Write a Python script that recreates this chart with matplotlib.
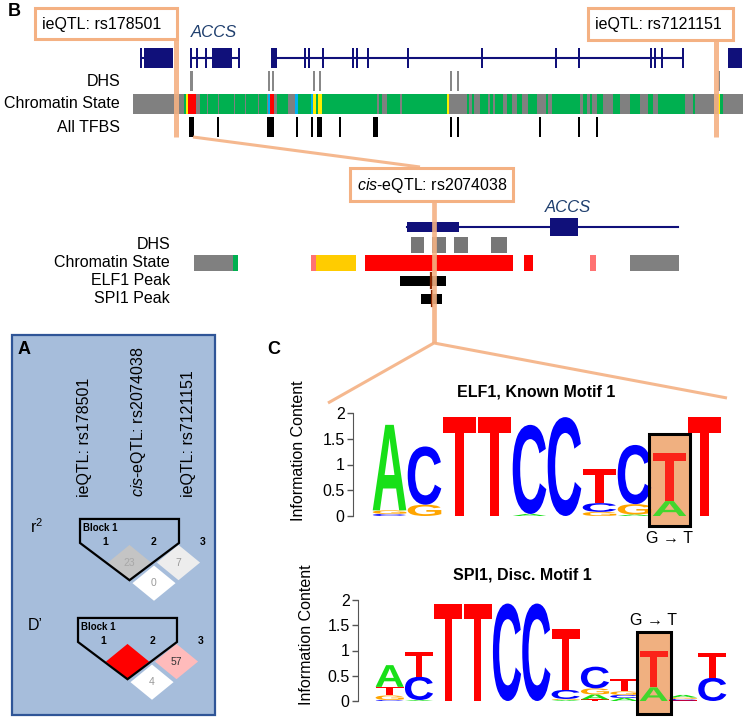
import matplotlib
matplotlib.use('Agg')
import matplotlib.pyplot as plt
import matplotlib.transforms as mtransforms
from matplotlib.patches import Rectangle, Polygon, PathPatch
from matplotlib.textpath import TextPath
from matplotlib.font_manager import FontProperties

plt.rcParams['font.family'] = ['Liberation Sans', 'DejaVu Sans']
plt.rcParams['mathtext.fontset'] = 'custom'
plt.rcParams['mathtext.rm'] = 'Liberation Sans'
plt.rcParams['mathtext.it'] = 'Liberation Sans:italic'
plt.rcParams['mathtext.bf'] = 'Liberation Sans:bold'

W, H = 745, 717

# ---------------- data: wide browser view (B, top) ----------------
top_gene_lines = [(140, 173), (190, 240), (272, 683)]
top_exons = [(139.5, 141.5), (144, 151.5), (152, 158.5), (159, 166.5), (167, 173),
             (189.5, 191.5), (196, 198), (204.5, 206.5), (212, 217.5), (218, 222.5),
             (223, 232), (237.5, 240), (271, 277), (304, 306), (308, 310),
             (322, 324), (352, 354), (356, 358), (367, 369), (407, 409),
             (481, 483), (555, 557), (578, 580), (650, 652), (654, 656),
             (661, 663), (682, 684), (728, 742)]
top_dhs_start = [190, 268, 272, 313, 319, 450, 457, 717.5]
top_dhs_end = [193, 270, 274, 315, 321, 452, 459, 719.5]
top_tfbs_start = [189, 217, 267, 296, 311, 317, 339, 373, 450, 457, 539, 578, 596]
top_tfbs_end = [193.5, 219, 274, 298, 313, 322, 341, 378, 452, 459, 541, 580, 598]
top_chrom_start = [133, 184, 186, 188, 200, 207, 218, 234, 245, 258, 268, 270, 277,
                   295, 298, 311, 313, 316, 318, 322, 377, 382, 400, 447,
                   467, 472, 480, 490, 495, 507, 517, 528, 546, 552,
                   583, 590, 597, 613, 630, 648, 658, 693, 718, 720]
top_chrom_end = [743, 186, 188, 196, 267, 208, 219, 235, 246, 259, 270, 274, 288,
                 298, 311, 313, 316, 318, 322, 447, 379, 387, 402, 449,
                 469, 474, 488, 493, 503, 512, 522, 537, 548, 580,
                 587, 592, 603, 620, 640, 653, 685, 695, 719.5, 723]
top_chrom_state = ['quies', 'txn', 'enh', 'prom', 'txn', 'quies', 'quies', 'quies', 'quies', 'quies', 'ins', 'prom', 'txn',
                   'ins', 'txn', 'ins', 'enh', 'txn', 'enh', 'txn', 'quies', 'quies', 'quies', 'enh',
                   'txn', 'txn', 'txn', 'txn', 'txn', 'txn', 'txn', 'txn', 'txn', 'txn',
                   'txn', 'txn', 'txn', 'txn', 'txn', 'txn', 'txn', 'txn', 'enh', 'txn']

# ---------------- data: zoomed browser view (B, bottom) ----------------
zoom_gene_line = (407, 678)
zoom_exons = [(407, 459, 'utr'), (550, 578, 'cds')]
zoom_dhs_start = [411, 432, 454, 491]
zoom_dhs_end = [424, 446, 468, 507]
zoom_chrom_start = [194, 233, 311, 316, 365, 524, 590, 630]
zoom_chrom_end = [233, 238, 316, 356, 513, 533, 596, 679]
zoom_chrom_state = ['quies', 'txn', 'weak', 'enh2', 'prom', 'prom', 'weak', 'quies']
elf1_peak = (400, 446, 431)
spi1_peak = (421, 442, 432)
snp_pos = 434

chrom_colors = {'quies': '#808080', 'txn': '#00B050', 'enh': '#FFEE00', 'enh2': '#FFCC00',
                'prom': '#FF0000', 'ins': '#00B0F0', 'weak': '#FF7272'}

# ---------------- data: LD plot (A) ----------------
ld_pairs = [(1, 2), (2, 3), (1, 3)]
r2_values = [23, 7, 0]
dprime_values = [100, 57, 4]
dprime_colors = ['#FF0000', '#FFBBBB', '#FFFFFF']
snp_labels = ['ieQTL: rs178501', '$\\mathit{cis}$-eQTL: rs2074038', 'ieQTL: rs7121151']

# ---------------- data: motif logos (C) ----------------
elf1_A = [1.66, 0.00, 0.00, 0.00, 0.04, 0.00, 0.00, 0.03, 0.29, 0.00]
elf1_C = [0.04, 1.13, 0.00, 0.00, 1.73, 1.92, 0.17, 1.15, 0.00, 0.00]
elf1_G = [0.07, 0.22, 0.00, 0.00, 0.00, 0.00, 0.08, 0.20, 0.00, 0.00]
elf1_T = [0.00, 0.00, 1.92, 1.92, 0.00, 0.00, 0.66, 0.00, 0.93, 1.92]
elf1_snp_col = 9

spi1_A = [0.43, 0.02, 0.00, 0.00, 0.00, 0.00, 0.02, 0.10, 0.06, 0.27, 0.05, 0.00]
spi1_C = [0.02, 0.46, 0.00, 0.00, 1.93, 1.93, 0.18, 0.43, 0.06, 0.00, 0.03, 0.46]
spi1_G = [0.09, 0.00, 0.00, 0.00, 0.00, 0.00, 0.02, 0.12, 0.07, 0.00, 0.03, 0.00]
spi1_T = [0.17, 0.50, 1.93, 1.93, 0.00, 0.00, 1.20, 0.03, 0.24, 0.72, 0.01, 0.50]
spi1_snp_col = 10

base_colors = {'A': '#18E018', 'C': '#0000FF', 'G': '#FFA500', 'T': '#FF0000'}

ORANGE = '#F4B183'
NAVY = '#10107A'
GENE_LABEL = '#1F3F6E'
FS = 11.5

fig = plt.figure(figsize=(W / 100, H / 100), dpi=100)


def px_axes(left, top, right, bottom):
    return fig.add_axes([left / W, 1 - bottom / H, (right - left) / W, (bottom - top) / H])


# background layer (panel A box and plain labels)
bg = px_axes(0, 0, W, H)
bg.set_xlim(0, W)
bg.set_ylim(H, 0)
bg.axis('off')
bg.add_patch(Rectangle((12, 335), 203, 380, facecolor='#A6BDDB', edgecolor='#2F5597', lw=1.6))
bg.text(8, 12, 'B', fontsize=13, fontweight='bold', va='center')
bg.text(18, 349, 'A', fontsize=13, fontweight='bold', va='center')
bg.text(267, 349, 'C', fontsize=13, fontweight='bold', va='center')
for x, lab in zip([85, 138, 188], snp_labels):
    bg.text(x, 497, lab, rotation=90, ha='center', va='bottom', fontsize=FS)
bg.text(30, 527, 'r$^2$', fontsize=FS, va='center')
bg.text(28, 625, 'D\u2019', fontsize=FS, va='center')


# ---------------- wide browser ----------------
tb = px_axes(133, 46.5, 743, 138.5)
tb.set_xlim(133, 743)
tb.set_ylim(3.5, -0.5)
tb.axis('off')
for s, e in top_gene_lines:
    tb.plot([s, e], [0, 0], color=NAVY, lw=1.5, solid_capstyle='butt')
for s, e in top_exons:
    tb.add_patch(Rectangle((s, -0.43), e - s, 0.86, color=NAVY, lw=0))
for s, e in zip(top_dhs_start, top_dhs_end):
    tb.add_patch(Rectangle((s, 1 - 0.42), e - s, 0.84, color='#888888', lw=0))
for s, e, st in zip(top_chrom_start, top_chrom_end, top_chrom_state):
    tb.add_patch(Rectangle((s, 2 - 0.42), e - s, 0.84, color=chrom_colors[st], lw=0))
for s, e in zip(top_tfbs_start, top_tfbs_end):
    tb.add_patch(Rectangle((s, 3 - 0.43), e - s, 0.86, color='black', lw=0))
tb.text(214, -1.1, 'ACCS', style='italic', color=GENE_LABEL, fontsize=12, ha='center', va='center')
for row, lab in enumerate(['DHS', 'Chromatin State', 'All TFBS'], start=1):
    tb.text(120, row, lab, ha='right', va='center', fontsize=FS)

# ---------------- zoomed browser ----------------
zb = px_axes(180, 218.05, 700, 307.55)
zb.set_xlim(180, 700)
zb.set_ylim(4.5, -0.5)
zb.axis('off')
zb.plot(zoom_gene_line, [0, 0], color=NAVY, lw=1.5)
for s, e, kind in zoom_exons:
    hh = 0.26 if kind == 'utr' else 0.48
    zb.add_patch(Rectangle((s, -hh), e - s, 2 * hh, color=NAVY, lw=0))
for s, e in zip(zoom_dhs_start, zoom_dhs_end):
    zb.add_patch(Rectangle((s, 1 - 0.45), e - s, 0.9, color='#777777', lw=0))
for s, e, st in zip(zoom_chrom_start, zoom_chrom_end, zoom_chrom_state):
    zb.add_patch(Rectangle((s, 2 - 0.45), e - s, 0.9, color=chrom_colors[st], lw=0))
for row, (s, e, summit) in zip([3, 4], [elf1_peak, spi1_peak]):
    zb.add_patch(Rectangle((s, row - 0.28), e - s, 0.56, color='black', lw=0))
    zb.plot([summit, summit], [row - 0.42, row + 0.42], color='#8B2500', lw=1.6)
zb.text(568, -1.07, 'ACCS', style='italic', color=GENE_LABEL, fontsize=12, ha='center', va='center')
for row, lab in enumerate(['DHS', 'Chromatin State', 'ELF1 Peak', 'SPI1 Peak'], start=1):
    zb.text(170, row, lab, ha='right', va='center', fontsize=FS)


# ---------------- LD plots ----------------
def draw_ld(ax, values, colors, text_colors, hide_value=None):
    hw, hh, step = 0.44, 0.36, 0.42
    for (i, j), v, c, tc in zip(ld_pairs, values, colors, text_colors):
        cx, cy = (i + j) / 2, -(j - i) * step
        ax.add_patch(Polygon([(cx - hw, cy), (cx, cy + hh), (cx + hw, cy), (cx, cy - hh)],
                             closed=True, facecolor=c, edgecolor='none', zorder=2))
        if v != hide_value:
            ax.text(cx, cy, str(v), ha='center', va='center', fontsize=7.5, color=tc, zorder=4)
    bottom = -step - hh
    ax.add_patch(Polygon([(0.49, 0.47), (2.51, 0.47), (2.51, -0.02), (1.5, bottom), (0.49, -0.02)],
                         closed=True, fill=False, edgecolor='black', lw=1.6, zorder=3))
    for k in range(1, 4):
        ax.text(k, 0, str(k), ha='center', va='center', fontsize=7.5, fontweight='bold', zorder=4)
    ax.text(0.55, 0.29, 'Block 1', ha='left', va='center', fontsize=7, fontweight='bold', zorder=4)


r2_ax = px_axes(56, 505, 252, 605)
d_ax = px_axes(54, 604, 250, 704)
for a in (r2_ax, d_ax):
    a.set_xlim(0, 4)
    a.set_ylim(-1.286, 0.755)
    a.axis('off')
r2_colors = [str(1 - v / 100) for v in r2_values]
draw_ld(r2_ax, r2_values, r2_colors, ['#A8A8A8', '#9A9A9A', '#9A9A9A'])
draw_ld(d_ax, dprime_values, dprime_colors, ['#333333', '#333333', '#999999'], hide_value=100)

# ---------------- sequence logos ----------------
LOGO_FONT = FontProperties(family='Liberation Sans', weight='bold')


def draw_letter(ax, ch, x, y, w, h, color, alpha=1.0):
    tp = TextPath((0, 0), ch, size=1, prop=LOGO_FONT)
    bb = tp.get_extents()
    tr = (mtransforms.Affine2D().translate(-bb.x0, -bb.y0)
          .scale(w / bb.width, h / bb.height).translate(x, y))
    ax.add_patch(PathPatch(tr.transform_path(tp), facecolor=color, edgecolor='none',
                           alpha=alpha, zorder=3))


def draw_logo(ax, counts, snp_col, box_y, title, title_xy, mut_y, ylab_x, ylab_y):
    n = len(counts['A'])
    for i in range(n):
        col = sorted([(counts[b][i], b) for b in 'ACGT'])
        y = 0
        for h, b in col:
            if h <= 0:
                continue
            hl = (i + 1) == snp_col
            draw_letter(ax, b, i + 1 - 0.48, y, 0.96, h, base_colors[b], alpha=0.8 if hl else 1.0)
            y += h
    ax.add_patch(Rectangle((snp_col - 0.58, box_y[0]), 1.16, box_y[1] - box_y[0],
                           facecolor='#F0B080', edgecolor='none', clip_on=False, zorder=2))
    ax.add_patch(Rectangle((snp_col - 0.58, box_y[0]), 1.16, box_y[1] - box_y[0],
                           facecolor='none', edgecolor='black', lw=2.2, clip_on=False, zorder=4))
    ax.text(snp_col, mut_y, 'G \u2192 T', ha='center', va='center', fontsize=11.5)
    ax.text(title_xy[0], title_xy[1], title, ha='center', va='center', fontsize=FS, fontweight='bold')
    ax.text(ylab_x, ylab_y, 'Information Content', rotation=90, ha='center', va='center',
            fontsize=FS, transform=ax.transAxes)
    ax.set_ylim(0, 2)
    ax.set_yticks([0, 0.5, 1, 1.5, 2])
    ax.set_yticklabels(['0', '0.5', '1', '1.5', '2'])
    ax.set_xticks([])
    for side in ('top', 'right', 'bottom'):
        ax.spines[side].set_visible(False)
    ax.spines['left'].set_color('#555555')
    ax.spines['left'].set_bounds(0, 2)
    ax.tick_params(axis='y', length=4, width=1, color='#555555', pad=2, labelsize=FS)
    ax.patch.set_alpha(0)


elf_ax = px_axes(353, 413, 722, 516)
elf_ax.set_xlim(-0.043, 10.5)
draw_logo(elf_ax, {'A': elf1_A, 'C': elf1_C, 'G': elf1_G, 'T': elf1_T}, elf1_snp_col,
          (-0.19, 1.59), 'ELF1, Known Motif 1', (5.19, 2.41), -0.44, -0.149, 0.63)

spi_ax = px_axes(358, 600, 727, 701)
spi_ax.set_xlim(-0.08, 12.5)
draw_logo(spi_ax, {'A': spi1_A, 'C': spi1_C, 'G': spi1_G, 'T': spi1_T}, spi1_snp_col,
          (-0.26, 1.37), 'SPI1, Disc. Motif 1', (5.51, 2.5), 1.6, -0.14, 0.66)

# ---------------- orange call-outs ----------------
ov = px_axes(0, 0, W, H)
ov.set_xlim(0, W)
ov.set_ylim(H, 0)
ov.axis('off')
line_kw = dict(color=ORANGE, solid_capstyle='butt', alpha=0.9)
ov.plot([176, 176], [39, 137], lw=3.6, **line_kw)
ov.plot([716, 716], [40, 137], lw=3.6, **line_kw)
ov.plot([193, 420], [137, 167], lw=2.2, **line_kw)
ov.plot([snp_pos, snp_pos], [201, 343], lw=3.4, **line_kw)
ov.plot([328, snp_pos, 727], [403, 343, 398], lw=2.2, **line_kw)
for (x0, y0, x1, y1), lab, tx in [((35, 8, 177, 39), 'ieQTL: rs178501', 42),
                                  ((588, 8, 733, 40), 'ieQTL: rs7121151', 595),
                                  ((350, 168, 513, 201), '$\\mathit{cis}$-eQTL: rs2074038', 357)]:
    ov.add_patch(Rectangle((x0, y0), x1 - x0, y1 - y0, facecolor='white', edgecolor=ORANGE, lw=2.2))
    ov.text(tx, (y0 + y1) / 2 + 1, lab, ha='left', va='center', fontsize=FS)

fig.savefig('out.png', dpi=100)
